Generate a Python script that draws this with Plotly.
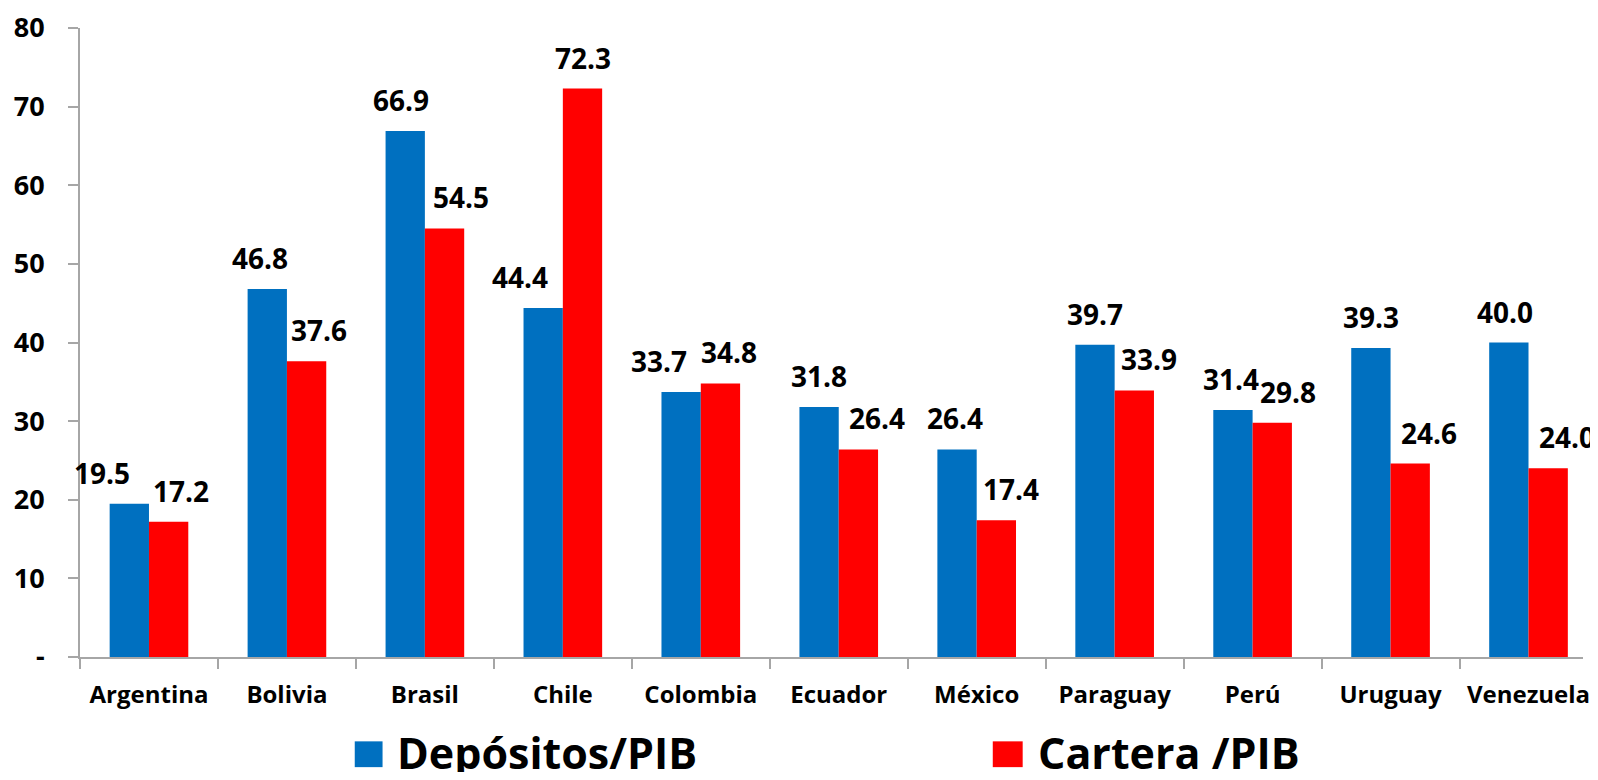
import plotly.graph_objects as go

# datos
paises = ["Argentina", "Bolivia", "Brasil", "Chile", "Colombia", "Ecuador",
          "México", "Paraguay", "Perú", "Uruguay", "Venezuela"]
depositos_pib = [19.5, 46.8, 66.9, 44.4, 33.7, 31.8, 26.4, 39.7, 31.4, 39.3, 40.0]
cartera_pib = [17.2, 37.6, 54.5, 72.3, 34.8, 26.4, 17.4, 33.9, 29.8, 24.6, 24.0]
y_ticks = [0, 10, 20, 30, 40, 50, 60, 70, 80]
y_ticktext = ["-", "10", "20", "30", "40", "50", "60", "70", "80"]

AZUL = "#0070C0"
ROJO = "#FF0000"
GRIS = "#A6A6A6"
FONT = "Open Sans"

# desplazamiento (px) de cada etiqueta respecto al centro de su barra, como en el original
ajuste_azul = [-27, -7, -4, -23, -22, 0, -2, 0, -2, 0, -4]
ajuste_rojo = [12, 12, 16, 0, 8, 18, 14, 14, 15, 18, 18]
MEDIA_BARRA = 20

fig = go.Figure()
fig.add_trace(go.Bar(x=paises, y=depositos_pib, name="Depósitos/PIB",
                     marker=dict(color=AZUL, line=dict(width=0)), showlegend=False))
fig.add_trace(go.Bar(x=paises, y=cartera_pib, name="Cartera /PIB",
                     marker=dict(color=ROJO, line=dict(width=0)), showlegend=False))

# etiquetas de datos sobre las barras
for serie, signo, ajuste in ((depositos_pib, -1, ajuste_azul), (cartera_pib, 1, ajuste_rojo)):
    for p, v, a in zip(paises, serie, ajuste):
        fig.add_annotation(x=p, y=v, text=f"{v:.1f}", showarrow=False,
                           xshift=signo * MEDIA_BARRA + a, yshift=10, yanchor="bottom",
                           font=dict(family=FONT, size=28, color="black", weight="bold"))

# leyenda dibujada a mano (cuadros grandes)
fig.add_shape(type="rect", xref="paper", yref="paper", x0=0.1828, x1=0.2013,
              y0=-0.1341, y1=-0.1751, fillcolor=AZUL, line=dict(width=0))
fig.add_shape(type="rect", xref="paper", yref="paper", x0=0.6073, x1=0.6272,
              y0=-0.1341, y1=-0.1751, fillcolor=ROJO, line=dict(width=0))
fig.add_annotation(xref="paper", yref="paper", x=0.2099, y=-0.1514, xanchor="left",
                   yanchor="middle", text="Depósitos/PIB", showarrow=False,
                   font=dict(family=FONT, size=43, color="black", weight="bold"))
fig.add_annotation(xref="paper", yref="paper", x=0.6358, y=-0.1514, xanchor="left",
                   yanchor="middle", text="Cartera /PIB", showarrow=False,
                   font=dict(family=FONT, size=43, color="black", weight="bold"))

fig.update_layout(
    barmode="group",
    bargap=0.43,
    bargroupgap=0,
    plot_bgcolor="white",
    paper_bgcolor="white",
    margin=dict(l=72, r=0, t=15, b=115),
    font=dict(family=FONT, color="black"),
)

fig.update_xaxes(
    range=[-0.5, 10.395],
    showline=True, linecolor=GRIS, linewidth=2,
    ticks="outside", tickson="boundaries", ticklen=10, tickcolor=GRIS, tickwidth=2,
    tickfont=dict(family=FONT, size=24, weight="bold"),
    ticklabelstandoff=15,
    ticklabeloverflow="allow",
    showgrid=False,
)
fig.update_yaxes(
    range=[0, 80],
    tickvals=y_ticks, ticktext=y_ticktext,
    showline=True, linecolor=GRIS, linewidth=2,
    ticks="outside", ticklen=10, tickcolor=GRIS, tickwidth=2,
    tickfont=dict(family=FONT, size=27, weight="bold"),
    ticklabelstandoff=18,
    ticklabeloverflow="allow",
    showgrid=False, zeroline=False,
)

fig.write_html("out.html")
